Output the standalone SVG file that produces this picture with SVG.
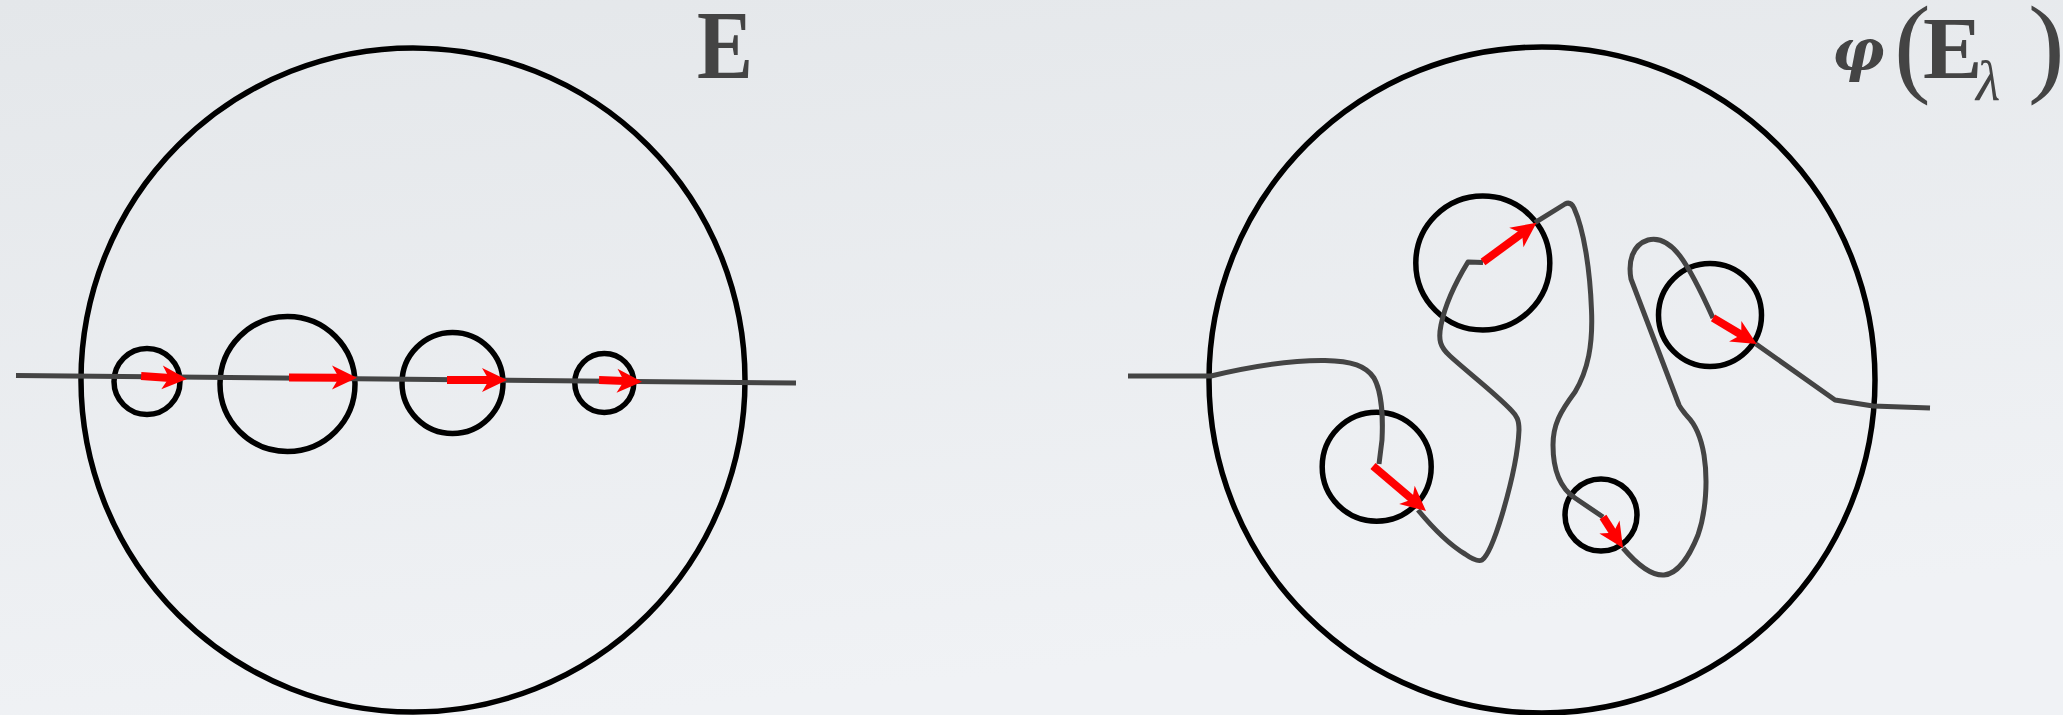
<svg xmlns="http://www.w3.org/2000/svg" xmlns:xlink="http://www.w3.org/1999/xlink" width="2063" height="715" viewBox="0 0 2063 715">
<style>
.ring{fill:none;stroke:#000;stroke-width:5.5}
.curve{fill:none;stroke:#444;stroke-width:5;stroke-linejoin:round;stroke-linecap:butt}
.shaft{stroke:#ff0000;stroke-width:8;stroke-linecap:butt}
.head{fill:#ff0000}
.lbl{fill:#444;font-family:"Liberation Serif",serif}
</style>
<defs>
<linearGradient id="bg" x1="0" y1="0" x2="0.3" y2="1">
<stop offset="0" stop-color="#e4e7ea"/>
<stop offset="1" stop-color="#f0f2f5"/>
</linearGradient>
<path id="ah" class="head" d="M0,0 L-25,-12 L-18,0 L-25,12 Z"/>
</defs>
<rect width="2063" height="715" fill="url(#bg)"/>

<g id="outer-left"><circle class="ring" cx="413" cy="380" r="332"/></g>
<g id="left-c1"><circle class="ring" cx="147" cy="381.5" r="33"/></g>
<g id="left-c2"><circle class="ring" cx="287.5" cy="384" r="67.5"/></g>
<g id="left-c3"><circle class="ring" cx="452.5" cy="383" r="50.5"/></g>
<g id="left-c4"><circle class="ring" cx="604.3" cy="383" r="29.5"/></g>

<g id="outer-right"><circle class="ring" cx="1542" cy="380" r="333"/></g>
<g id="right-a"><circle class="ring" cx="1482.8" cy="263" r="67"/></g>
<g id="right-b"><circle class="ring" cx="1710" cy="315" r="51.5"/></g>
<g id="right-c"><circle class="ring" cx="1376.7" cy="466.7" r="54.5"/></g>
<g id="right-d"><circle class="ring" cx="1601" cy="515" r="36"/></g>

<g id="connectors">
<path class="curve" d="M16,375.5 L796,383"/>
<path class="curve" d="M1128,376 L1211,376 C1245,368 1290,360 1325,360.5 C1352,361 1366,366 1374,378 C1382,392 1383,420 1382,440 L1379,464"/>
<path class="curve" d="M1418,510 C1432,527 1450,545 1465,554 C1472,559 1478,562 1482,560 C1488,556 1495,538 1502,515 C1510,488 1518,455 1519,430 C1519,420 1517,416 1511,410 C1495,393 1465,370 1450,356 C1440,347 1438,340 1441,325 C1445,305 1457,280 1468,262 L1483,262.5"/>
<path class="curve" d="M1535,222.7 L1565,204 C1569,202 1572,204 1574,208 C1584,230 1590,270 1591.5,310 C1593,345 1588,370 1575,392 C1560,412 1553,425 1553,445 C1553,470 1560,488 1575,498 L1603,517"/>
<path class="curve" d="M1623,548 C1635,562 1650,576 1664,575 C1678,574 1690,555 1698,535 C1706,512 1708,480 1704,455 C1701,437 1696,425 1687,416 C1683,411 1681,409 1679,405 L1631,279 C1628,262 1632,245 1648,240 C1660,237 1670,243 1680,256 C1692,272 1704,298 1713,318"/>
<path class="curve" d="M1756,344 L1835,400 L1873,406 L1930,408"/>

<g transform="translate(187,379) rotate(3.7)"><line class="shaft" x1="-46" y1="0" x2="-17" y2="0"/><use xlink:href="#ah"/></g>
<g transform="translate(357,377.7) rotate(0.2)"><line class="shaft" x1="-68" y1="0" x2="-17" y2="0"/><use xlink:href="#ah"/></g>
<g transform="translate(507,380)"><line class="shaft" x1="-60" y1="0" x2="-17" y2="0"/><use xlink:href="#ah"/></g>
<g transform="translate(642,381.7) rotate(2.3)"><line class="shaft" x1="-43" y1="0" x2="-17" y2="0"/><use xlink:href="#ah"/></g>

<g transform="translate(1426,511) rotate(40.3)"><line class="shaft" x1="-69.5" y1="0" x2="-17" y2="0"/><use xlink:href="#ah"/></g>
<g transform="translate(1536.5,222.7) rotate(-36.3)"><line class="shaft" x1="-66.4" y1="0" x2="-17" y2="0"/><use xlink:href="#ah"/></g>
<g transform="translate(1623,548) rotate(57.2)"><line class="shaft" x1="-36.9" y1="0" x2="-17" y2="0"/><use xlink:href="#ah"/></g>
<g transform="translate(1756.7,344) rotate(30.8)"><line class="shaft" x1="-50.9" y1="0" x2="-17" y2="0"/><use xlink:href="#ah"/></g>
</g>

<g id="label-left"><text class="lbl" x="697" y="78" font-size="97" font-weight="bold" textLength="56" lengthAdjust="spacingAndGlyphs">E</text></g>
<g id="label-right">
<text class="lbl"><tspan x="1832" y="70" font-family="'DejaVu Serif',serif" font-size="58" font-weight="bold" font-style="italic">φ</tspan><tspan x="1894" y="82" font-size="110">(</tspan><tspan x="1923" y="78" font-size="89" font-weight="bold">E</tspan><tspan x="1976" y="100" font-size="56" font-style="italic">λ</tspan><tspan x="2028" y="82" font-size="110">)</tspan></text>
</g>
</svg>
